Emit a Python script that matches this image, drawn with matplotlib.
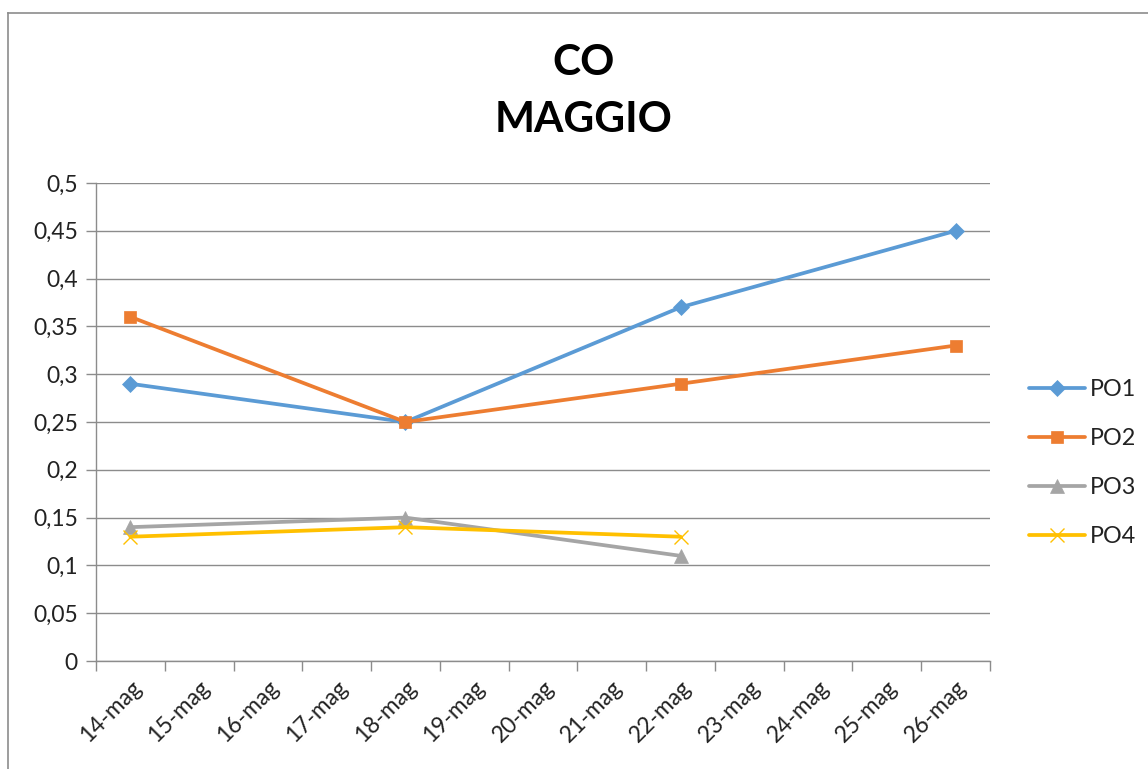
import matplotlib
matplotlib.use("Agg")
import matplotlib.pyplot as plt
from matplotlib.lines import Line2D
from matplotlib.ticker import FixedLocator, FuncFormatter

plt.rcParams['font.family'] = ['Lato', 'DejaVu Sans']

# Categories (days of May) and measured CO values per station
days = ["14-mag", "15-mag", "16-mag", "17-mag", "18-mag", "19-mag", "20-mag",
        "21-mag", "22-mag", "23-mag", "24-mag", "25-mag", "26-mag"]
po1_days = ["14-mag", "18-mag", "22-mag", "26-mag"]
po1_vals = [0.29, 0.25, 0.37, 0.45]
po2_days = ["14-mag", "18-mag", "22-mag", "26-mag"]
po2_vals = [0.36, 0.25, 0.29, 0.33]
po3_days = ["14-mag", "18-mag", "22-mag"]
po3_vals = [0.14, 0.15, 0.11]
po4_days = ["14-mag", "18-mag", "22-mag"]
po4_vals = [0.13, 0.14, 0.13]
y_ticks = [0, 0.05, 0.1, 0.15, 0.2, 0.25, 0.3, 0.35, 0.4, 0.45, 0.5]

W, H = 1148, 769
fig = plt.figure(figsize=(W / 100, H / 100), dpi=100)
ax = fig.add_axes([96 / W, 1 - 661 / H, (990 - 96) / W, (661 - 183) / H])

pos = {d: i for i, d in enumerate(days)}

series = [
    ("PO1", po1_days, po1_vals, "#5B9BD5", "D", 8),
    ("PO2", po2_days, po2_vals, "#ED7D31", "s", 9),
    ("PO3", po3_days, po3_vals, "#A5A5A5", "^", 9.5),
    ("PO4", po4_days, po4_vals, "#FFC000", "x", 10),
]
for name, ds, vals, col, mk, ms in series:
    xs = [pos[d] for d in ds]
    ax.plot(xs, vals, color=col, lw=2.7, marker=mk, markersize=ms,
            markerfacecolor=col, markeredgecolor=col,
            markeredgewidth=1.0 if mk == "x" else 0.5,
            label=name, zorder=3, solid_capstyle="round")

ax.set_xlim(-0.5, len(days) - 0.5)
ax.set_ylim(0, 0.5)

grid_col = "#8C8C8C"
ax.set_yticks(y_ticks)
ax.yaxis.set_major_formatter(FuncFormatter(lambda v, p: f"{v:g}".replace(".", ",")))
ax.yaxis.grid(True, color=grid_col, lw=1.0)
ax.set_axisbelow(True)

ax.set_xticks(range(len(days)))
ax.set_xticklabels(days, rotation=45, ha="right", rotation_mode="anchor")
ax.xaxis.set_minor_locator(FixedLocator([i - 0.5 for i in range(len(days) + 1)]))
ax.tick_params(axis="x", which="major", length=0, pad=11, labelsize=16.5, labelcolor="#222222")
ax.tick_params(axis="x", which="minor", length=7, color=grid_col, width=1.0)
ax.tick_params(axis="y", which="major", length=7, color=grid_col, width=1.0,
               labelsize=16.5, labelcolor="#222222", pad=6)

for side in ["top", "right"]:
    ax.spines[side].set_visible(False)
for side in ["left", "bottom"]:
    ax.spines[side].set_color(grid_col)
    ax.spines[side].set_linewidth(1.0)

fig.text(584 / W, 1 - 63 / H, "CO", ha="center", va="center",
         fontsize=30.5, fontweight="bold", color="#000000")
fig.text(584 / W, 1 - 120 / H, "MAGGIO", ha="center", va="center",
         fontsize=30.5, fontweight="bold", color="#000000")

ax.legend(loc="center left", bbox_to_anchor=(1020 / W, 1 - 463 / H),
          bbox_transform=fig.transFigure, frameon=False, fontsize=16.8,
          handlelength=2.4, handletextpad=0.2, labelspacing=1.2,
          borderaxespad=0, labelcolor="#222222")

# chart area outline (top and left edges)
fig.add_artist(Line2D([8 / W, 1.0], [1 - 13 / H, 1 - 13 / H],
                      transform=fig.transFigure, color="#8C8C8C", lw=1.2))
fig.add_artist(Line2D([8 / W, 8 / W], [0.0, 1 - 13 / H],
                      transform=fig.transFigure, color="#8C8C8C", lw=1.2))

fig.savefig("out.png", dpi=100, facecolor="white")
